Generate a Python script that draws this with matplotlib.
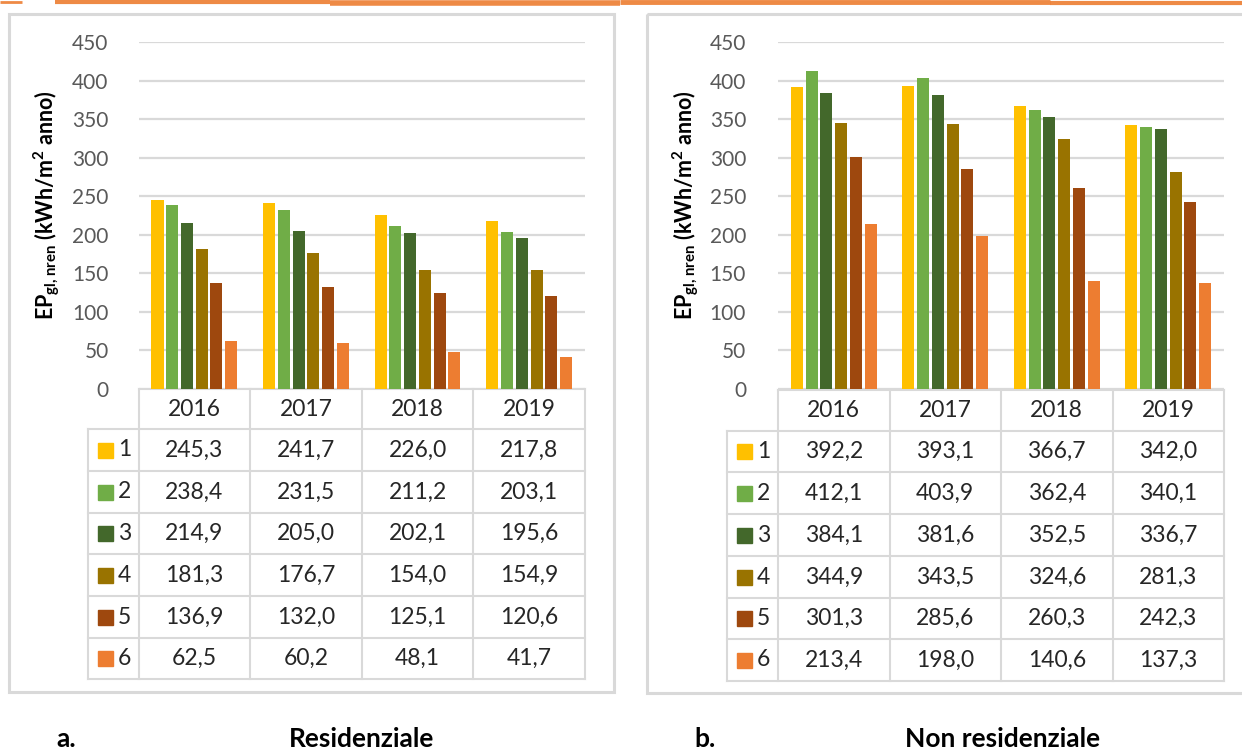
import numpy as np
import matplotlib
matplotlib.use("Agg")
import matplotlib.pyplot as plt
from matplotlib.patches import Rectangle

plt.rcParams['font.family'] = ['Lato', 'DejaVu Sans']
plt.rcParams['mathtext.fontset'] = 'custom'
plt.rcParams['mathtext.rm'] = 'Lato'
plt.rcParams['mathtext.bf'] = 'Lato:bold'

# dati
anni = ['2016', '2017', '2018', '2019']
classi = ['1', '2', '3', '4', '5', '6']
colori = ['#FFC000', '#70AD47', '#43682B', '#997300', '#9E480E', '#ED7D31']

res_1 = [245.3, 241.7, 226.0, 217.8]
res_2 = [238.4, 231.5, 211.2, 203.1]
res_3 = [214.9, 205.0, 202.1, 195.6]
res_4 = [181.3, 176.7, 154.0, 154.9]
res_5 = [136.9, 132.0, 125.1, 120.6]
res_6 = [62.5, 60.2, 48.1, 41.7]

nres_1 = [392.2, 393.1, 366.7, 342.0]
nres_2 = [412.1, 403.9, 362.4, 340.1]
nres_3 = [384.1, 381.6, 352.5, 336.7]
nres_4 = [344.9, 343.5, 324.6, 281.3]
nres_5 = [301.3, 285.6, 260.3, 242.3]
nres_6 = [213.4, 198.0, 140.6, 137.3]

yticks = [0, 50, 100, 150, 200, 250, 300, 350, 400, 450]

W, H = 1242, 751
fig = plt.figure(figsize=(W / 100, H / 100), dpi=100)

# overlay in pixel coords for boxes, tables, captions
ov = fig.add_axes([0, 0, 1, 1])
ov.set_xlim(0, W)
ov.set_ylim(H, 0)
ov.axis('off')

grigio = '#D9D9D9'
testo = '#262626'

# pennellata arancione in alto
for x0, x1, yy, lw in [(0, 22, 2, 2), (55, 330, 2, 3), (330, 620, 3, 4),
                       (620, 1050, 2, 3.5), (1050, 1242, 3, 3)]:
    ov.plot([x0, x1], [yy, yy], color='#ED7D31', lw=lw, alpha=0.9,
            solid_capstyle='butt')

ylab = r'$\mathbf{EP_{gl,nren}}$ (kWh/m$^\mathbf{2}$ anno)'


def pannello(box, ax_x0, ax_x1, leg_x0, tick_right, rows_y, dati, lab_x):
    bx0, by0, bx1, by1 = box
    ov.add_patch(Rectangle((bx0, by0), bx1 - bx0, by1 - by0, fill=False,
                           edgecolor=grigio, lw=2.2))

    y0, y450 = 389, 42
    ax = fig.add_axes([ax_x0 / W, 1 - y0 / H, (ax_x1 - ax_x0) / W,
                       (y0 - y450) / H])
    ax.set_xlim(-0.5, 3.5)
    ax.set_ylim(0, 450)
    ax.patch.set_alpha(0)
    for s in ax.spines.values():
        s.set_visible(False)
    ax.set_xticks([])
    ax.set_yticks(yticks)
    ax.tick_params(axis='y', length=0, pad=ax_x0 - tick_right,
                   labelsize=15, labelcolor='#595959')
    ax.grid(axis='y', color=grigio, lw=1.6)
    ax.set_axisbelow(True)

    x = np.arange(len(anni))
    passo = 0.132
    for i, serie in enumerate(dati):
        ax.bar(x + (i - 2.5) * passo, serie, width=0.108, color=colori[i],
               zorder=3)

    # tabella dati
    cw = (ax_x1 - ax_x0) / 4
    top = rows_y[0]
    bot = rows_y[-1]
    ov.plot([leg_x0, leg_x0], [rows_y[1], bot], color=grigio, lw=1.5)
    for j in range(5):
        xx = ax_x0 + j * cw
        ov.plot([xx, xx], [top, bot], color=grigio, lw=1.5)
    ov.plot([ax_x0, ax_x1], [top, top], color=grigio, lw=1.5)
    for yy in rows_y[1:]:
        ov.plot([leg_x0, ax_x1], [yy, yy], color=grigio, lw=1.5)

    for j, a in enumerate(anni):
        ov.text(ax_x0 + (j + 0.5) * cw, (rows_y[0] + rows_y[1]) / 2, a,
                ha='center', va='center', fontsize=16.5, color=testo)
    for i, serie in enumerate(dati):
        yc = (rows_y[i + 1] + rows_y[i + 2]) / 2
        ov.add_patch(Rectangle((leg_x0 + 10, yc - 7.5), 15, 15,
                               color=colori[i]))
        ov.text(leg_x0 + 30, yc, classi[i], ha='left', va='center',
                fontsize=16.5, color=testo)
        for j, v in enumerate(serie):
            ov.text(ax_x0 + (j + 0.5) * cw, yc, f'{v:.1f}'.replace('.', ','),
                    ha='center', va='center', fontsize=16.5, color=testo)

    ov.text(lab_x, 205, ylab, rotation=90, ha='center', va='center',
            fontsize=15.5, fontweight='bold', color='black')


pannello((9, 14, 614, 692), 138.5, 585, 88, 117,
         [389, 429, 471, 513, 554, 596, 638, 679],
         [res_1, res_2, res_3, res_4, res_5, res_6], 47)
pannello((647, 14, 1250, 693), 778, 1224, 727, 755,
         [390, 431, 472, 514, 556, 598, 639, 681],
         [nres_1, nres_2, nres_3, nres_4, nres_5, nres_6], 686)

# didascalie
for xx, s in [(66, 'a.'), (362, 'Residenziale'), (705, 'b.'),
              (1003, 'Non residenziale')]:
    ov.text(xx, 739, s, ha='center', va='center', fontsize=19,
            fontweight='bold', color='black')

fig.savefig('out.png', dpi=100)
